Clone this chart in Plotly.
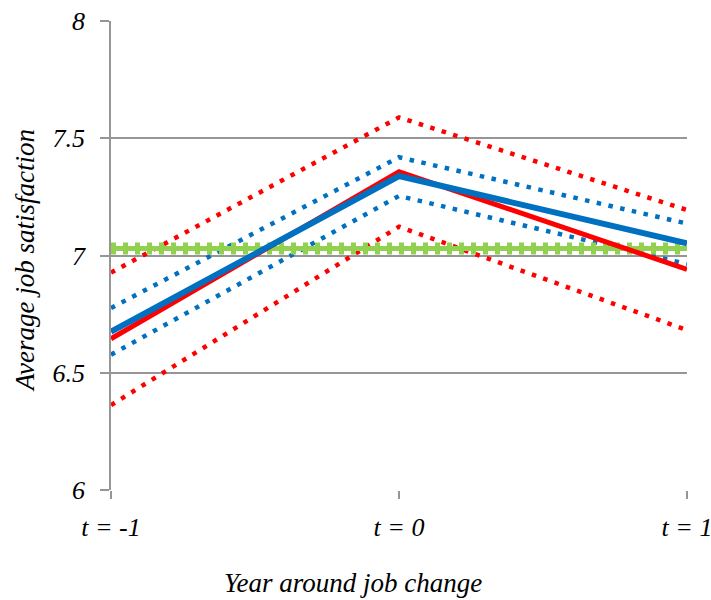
import plotly.graph_objects as go

x_labels = ["t = -1", "t = 0", "t = 1"]
x_pos = [0, 1, 2]
y_ticks = [6, 6.5, 7, 7.5, 8]

red_mean = [6.645, 7.357, 6.941]
red_upper = [6.927, 7.589, 7.194]
red_lower = [6.362, 7.123, 6.682]
blue_mean = [6.675, 7.339, 7.052]
blue_upper = [6.776, 7.419, 7.136]
blue_lower = [6.577, 7.254, 6.963]
green_ref = [7.03, 7.03, 7.03]

RED = "#FF0000"
BLUE = "#0070C0"
GREEN = "#92D050"
GRID = "#969696"

fig = go.Figure()

def add(y, color, width, dash="solid"):
    fig.add_trace(go.Scatter(x=x_pos, y=y, mode="lines",
                             line=dict(color=color, width=width, dash=dash),
                             showlegend=False, hoverinfo="skip", cliponaxis=False))

add(red_upper, RED, 4.5, "4.5px,7.5px")
add(red_lower, RED, 4.5, "4.5px,7.5px")
add(blue_upper, BLUE, 4.5, "4.5px,7.5px")
add(blue_lower, BLUE, 4.5, "4.5px,7.5px")
add(green_ref, GREEN, 5)
add(green_ref, GREEN, 12, "5px,7px")
add(red_mean, RED, 5)
add(blue_mean, BLUE, 6)

tfont = dict(family="Liberation Serif", size=26, color="#000000")
afont = dict(family="Liberation Serif", size=27, color="#000000")

fig.update_layout(
    width=711, height=600,
    margin=dict(l=111, r=24, t=21, b=110),
    paper_bgcolor="white", plot_bgcolor="white",
    font=tfont,
    xaxis=dict(
        range=[0, 2], tickvals=x_pos, ticktext=["<i>%s</i>" % t for t in x_labels],
        showgrid=False, zeroline=False, automargin=False,
        showline=False, ticks="outside", ticklen=8, tickcolor=GRID, tickwidth=1.5,
        tickfont=tfont, ticklabelstandoff=6, ticklabeloverflow="allow",
    ),
    yaxis=dict(
        range=[6, 8], tickvals=y_ticks,
        ticktext=["<i>%g</i>" % v for v in y_ticks],
        showgrid=True, gridcolor=GRID, gridwidth=1.5, zeroline=False, automargin=False,
        showline=True, linecolor=GRID, linewidth=1.5,
        ticks="outside", ticklen=9, tickcolor=GRID, tickwidth=1.5,
        tickfont=tfont, ticklabelstandoff=10, ticklabeloverflow="allow",
    ),
    annotations=[
        dict(text="<i>Year around job change</i>", xref="paper", yref="paper",
             x=(353 - 111) / 576, y=(490 - 583) / 469, xanchor="center", yanchor="middle",
             showarrow=False, font=afont),
        dict(text="<i>Average job satisfaction</i>", xref="paper", yref="paper",
             x=(25 - 111) / 576, y=(490 - 261) / 469, xanchor="center", yanchor="middle",
             textangle=-90, showarrow=False, font=afont),
    ],
)

fig.write_html("out.html")
